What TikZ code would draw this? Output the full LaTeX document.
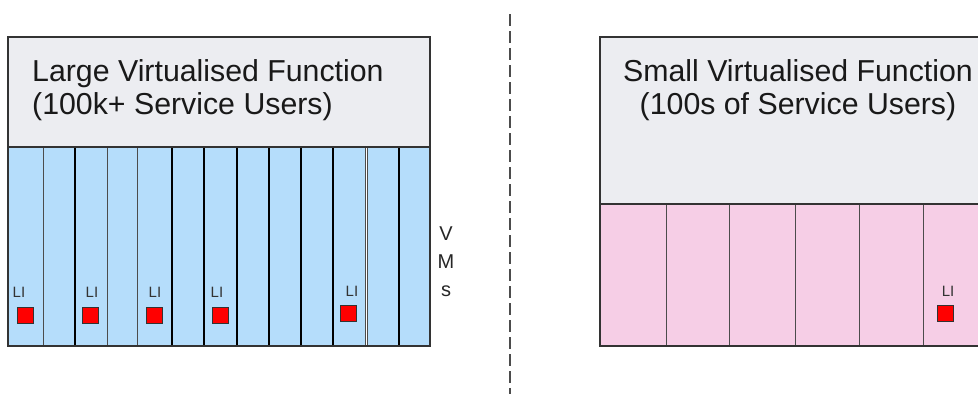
\documentclass[tikz,border=0pt]{standalone}
\usepackage{fontspec}
\setmainfont{Liberation Sans}
\definecolor{headgray}{RGB}{236,237,241}
\definecolor{vmblue}{RGB}{181,221,251}
\definecolor{vmpink}{RGB}{246,206,230}
\begin{document}
\begin{tikzpicture}[x=1pt,y=-1pt,
			frame/.style={draw=black!80,line width=1.2pt},
			thin sep/.style={draw=black!70,line width=1pt},
			thick sep/.style={draw=black,line width=2.2pt},
			li box/.style={draw=black!80,fill=red,minimum size=16pt,inner sep=0pt,line width=1pt},
			li label/.style={font=\fontsize{15}{15}\selectfont,text=black!80,inner sep=0pt},
			title/.style={font=\fontsize{30.3}{33}\selectfont,inner sep=0pt,text=black!90}]
			
			\useasboundingbox (0,0) rectangle (978,394);
			
			% large function: header and VM strip
			\fill[headgray] (8,37) rectangle (430,147);
			\fill[vmblue] (8,147) rectangle (365,346);
			\fill[vmblue] (367,147) rectangle (430,346);
			\foreach \x in {43,107,137}
			\draw[thin sep] (\x,147) -- (\x,346);
			\foreach \x in {75,172,204,237,269,301,333,399}
			\draw[thick sep] (\x,147) -- (\x,346);
			\draw[thin sep] (365,147) -- (365,346);
			\draw[thin sep] (367,147) -- (367,346);
			\draw[frame] (8,147) -- (430,147);
			\draw[frame] (8,37) rectangle (430,346);
			
			\node[title,align=left,anchor=north west] (t1) at (32,59)
			{Large Virtualised Function\\(100k+ Service Users)};
			\node[font=\fontsize{20}{28}\selectfont,align=center,inner sep=0pt,text=black!85] (vms) at (446,262) {V\\M\\s};
			
			% small function: header and VM strip
			\fill[headgray] (600,37) rectangle (1030,204);
			\fill[vmpink] (600,204) rectangle (1030,346);
			\foreach \x in {666,729,795,859,923}
			\draw[thin sep] (\x,204) -- (\x,346);
			\draw[frame] (600,204) -- (1030,204);
			\draw[frame] (600,37) rectangle (1030,346);
			
			\node[title,align=center,anchor=north] (t2) at (798,59)
			{Small Virtualised Function\\(100s of Service Users)};
			
			% LI points
			\node[li box] (1) at (25,315) {};
			\node[li box] (2) at (90,315) {};
			\node[li box] (3) at (154,315) {};
			\node[li box] (4) at (220,315) {};
			\node[li box] (5) at (348,313) {};
			\node[li box] (6) at (945,313) {};
			\node[li label] (l1) at (19,292) {LI};
			\node[li label] (l2) at (92,292) {LI};
			\node[li label] (l3) at (155,292) {LI};
			\node[li label] (l4) at (217,292) {LI};
			\node[li label] (l5) at (352,291) {LI};
			\node[li label] (l6) at (948,291) {LI};
			
			% divider
			\coordinate (top) at (510,14);
			\coordinate (bottom) at (510,394);
			\draw[black!70,line width=1.3pt,dash pattern=on 12pt off 5pt] (top) -- (bottom);
			\end{tikzpicture}
\end{document}
